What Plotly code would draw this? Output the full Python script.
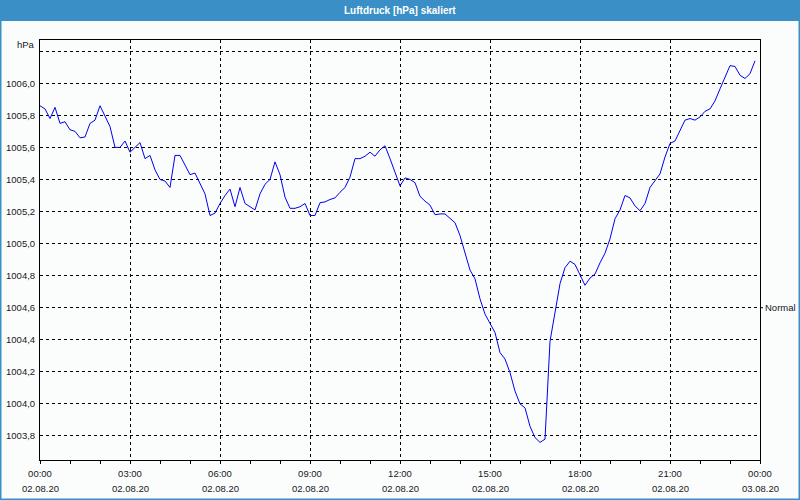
import plotly.graph_objects as go
import pandas as pd

# ---- data ----
start_time = "2020-08-02 00:00"
n_points = 144
times = pd.date_range(start_time, periods=n_points, freq="10min")
pressure = [
    1005.86, 1005.84, 1005.78, 1005.85, 1005.75, 1005.76, 1005.71, 1005.70, 1005.66, 1005.665,
    1005.75, 1005.77, 1005.86, 1005.80, 1005.73, 1005.60, 1005.60, 1005.64, 1005.57, 1005.60,
    1005.63, 1005.53, 1005.55, 1005.46, 1005.40, 1005.39, 1005.35, 1005.55, 1005.55, 1005.49,
    1005.43, 1005.44, 1005.37, 1005.31, 1005.175, 1005.19, 1005.25, 1005.30, 1005.34, 1005.23,
    1005.35, 1005.25, 1005.23, 1005.21, 1005.31, 1005.37, 1005.40, 1005.51, 1005.43, 1005.29,
    1005.22, 1005.22, 1005.23, 1005.25, 1005.175, 1005.175, 1005.255, 1005.26, 1005.275, 1005.285,
    1005.32, 1005.35, 1005.415, 1005.53, 1005.53, 1005.545, 1005.57, 1005.545, 1005.585, 1005.61,
    1005.53, 1005.445, 1005.36, 1005.41, 1005.40, 1005.38, 1005.295, 1005.265, 1005.24, 1005.18,
    1005.185, 1005.185, 1005.16, 1005.13, 1005.05, 1004.945, 1004.835, 1004.78, 1004.655, 1004.56,
    1004.50, 1004.445, 1004.32, 1004.28, 1004.195, 1004.08, 1004.00, 1003.975, 1003.86, 1003.79,
    1003.76, 1003.78, 1004.39, 1004.57, 1004.75, 1004.85, 1004.89, 1004.87, 1004.80, 1004.74,
    1004.785, 1004.81, 1004.88, 1004.94, 1005.03, 1005.155, 1005.21, 1005.30, 1005.285, 1005.235,
    1005.205, 1005.25, 1005.35, 1005.39, 1005.435, 1005.54, 1005.625, 1005.64, 1005.71, 1005.77,
    1005.78, 1005.77, 1005.79, 1005.825, 1005.84, 1005.89, 1005.965, 1006.04, 1006.11, 1006.105,
    1006.05, 1006.03, 1006.06, 1006.14,
]
x_tick_times = pd.date_range("2020-08-02 00:00", "2020-08-03 00:00", freq="3h")
x_tick_time_text = [f"{t:%H:%M}" for t in x_tick_times]
x_tick_date_text = [f"{t:%d.%m.%y}" for t in x_tick_times]
y_tick_vals = [1003.8, 1004.0, 1004.2, 1004.4, 1004.6, 1004.8, 1005.0, 1005.2, 1005.4,
               1005.6, 1005.8, 1006.0, 1006.2]
y_tick_text = [f"{v:.1f}".replace(".", ",") for v in y_tick_vals[:-1]] + [""]
normal_value = 1004.6
y_range = [1003.65, 1006.27]
title_text = "Luftdruck [hPa] skaliert"
unit_text = "hPa"

# ---- layout constants ----
W, H = 800, 500
L, R, T, B = 40, 40, 40, 40
pw, ph = W - L - R, H - T - B
BLUE = "#3B8FC7"
BG = "#FBFDFC"
FONT = "Liberation Sans"
FS = 9.5
TXT = "#16161e"

def px_x(p):
    return (p - L) / pw

def px_y(p):
    return 1 - (p - T) / ph

fig = go.Figure()
fig.add_trace(go.Scatter(x=times, y=pressure, mode="lines",
                         line=dict(color="#0000F0", width=1), hoverinfo="skip",
                         showlegend=False))

fig.update_layout(
    width=W, height=H,
    margin=dict(l=L, r=R, t=T, b=B, autoexpand=False),
    paper_bgcolor=BG, plot_bgcolor=BG,
    font=dict(family=FONT, size=FS, color=TXT),
    showlegend=False,
    xaxis=dict(
        type="date", automargin=False,
        range=[x_tick_times[0], x_tick_times[-1]],
        tickmode="array", tickvals=list(x_tick_times), ticktext=x_tick_time_text,
        showgrid=True, gridcolor="#000000", griddash="3px,3px", gridwidth=1,
        showline=True, linecolor="#000000", linewidth=1, mirror=True,
        ticks="outside", ticklen=3, tickcolor="#000000", ticklabelstandoff=2,
        minor=dict(dtick=3600000, ticks="outside", ticklen=3, tickcolor="#000000", showgrid=False),
        zeroline=False, fixedrange=True,
    ),
    yaxis=dict(
        automargin=False,
        range=y_range,
        tickmode="array", tickvals=y_tick_vals, ticktext=y_tick_text,
        showgrid=True, gridcolor="#000000", griddash="3px,3px", gridwidth=1,
        showline=True, linecolor="#000000", linewidth=1, mirror=True,
        ticks="", ticklabelstandoff=2,
        zeroline=False, fixedrange=True,
    ),
)

# date line under each time tick label
for t, d in zip(x_tick_times, x_tick_date_text):
    fig.add_annotation(text=d, xref="x", yref="paper", x=t, y=0,
                       xanchor="center", yanchor="middle", yshift=-28,
                       showarrow=False, font=dict(size=FS, family=FONT, color=TXT))

# title bar and outer border
fig.add_shape(type="rect", xref="paper", yref="paper",
              x0=px_x(0), x1=px_x(W), y0=px_y(21), y1=px_y(0),
              fillcolor=BLUE, line=dict(width=0), layer="above")
fig.add_shape(type="rect", xref="paper", yref="paper",
              x0=px_x(0.5), x1=px_x(W - 0.5), y0=px_y(H - 0.5), y1=px_y(0),
              fillcolor="rgba(0,0,0,0)", line=dict(color=BLUE, width=2), layer="above")
fig.add_annotation(text=f"<b>{title_text}</b>", xref="paper", yref="paper",
                   x=0.5, y=px_y(10.5), xanchor="center", yanchor="middle",
                   showarrow=False, font=dict(color="white", size=10, family=FONT))

# unit label
fig.add_annotation(text=unit_text, xref="paper", yref="paper",
                   x=0, y=1, xanchor="right", yanchor="middle", xshift=-3, yshift=-4,
                   showarrow=False, font=dict(size=FS, family=FONT, color=TXT))

# "Normal" marker on right axis
fig.add_shape(type="line", xref="paper", yref="y",
              x0=1, x1=px_x(W - R + 3), y0=normal_value, y1=normal_value,
              line=dict(color="#000000", width=1))
fig.add_annotation(text="Normal", xref="paper", yref="y",
                   x=1, y=normal_value, xanchor="left", yanchor="middle", xshift=3,
                   showarrow=False, font=dict(size=FS, family=FONT, color=TXT))

fig.write_html("out.html")
